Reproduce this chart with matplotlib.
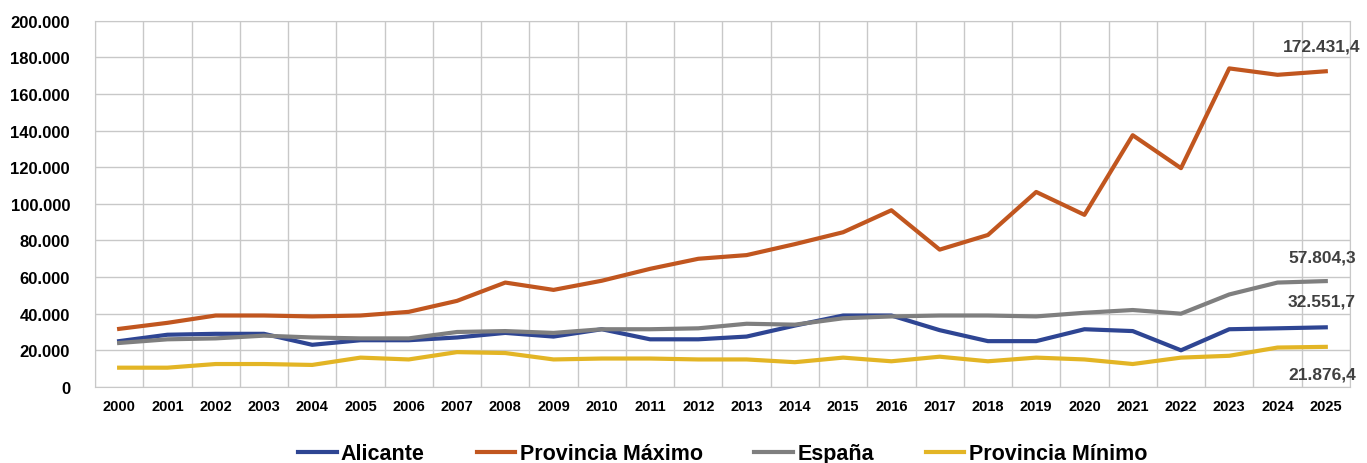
import matplotlib
matplotlib.use("Agg")
import matplotlib.pyplot as plt
from matplotlib.ticker import FuncFormatter, MultipleLocator

years = list(range(2000, 2026))

alicante = [25.0, 28.5, 29.0, 29.0, 23.0, 25.5, 25.5, 27.0, 29.5, 27.5,
            31.5, 26.0, 26.0, 27.5, 33.5, 39.0, 39.0, 31.0, 25.0, 25.0,
            31.5, 30.5, 20.0, 31.5, 32.0, 32.5517]
prov_max = [31.7, 35.0, 39.0, 39.0, 38.5, 39.0, 41.0, 47.0, 57.0, 53.0,
            58.0, 64.5, 70.0, 72.0, 78.0, 84.5, 96.5, 75.0, 83.0, 106.5,
            94.0, 137.5, 119.5, 174.0, 170.5, 172.4314]
espana = [24.0, 26.0, 26.5, 28.0, 27.0, 26.5, 26.5, 30.0, 30.5, 29.5,
          31.5, 31.5, 32.0, 34.5, 34.0, 37.5, 38.5, 39.0, 39.0, 38.5,
          40.5, 42.0, 40.0, 50.5, 57.0, 57.8043]
prov_min = [10.5, 10.5, 12.5, 12.5, 12.0, 16.0, 15.0, 19.0, 18.5, 15.0,
            15.5, 15.5, 15.0, 15.0, 13.5, 16.0, 14.0, 16.5, 14.0, 16.0,
            15.0, 12.5, 16.0, 17.0, 21.5, 21.8764]

series = [("Alicante", alicante, "#2E4593"),
          ("Provincia Máximo", prov_max, "#C1561F"),
          ("España", espana, "#7F7F7F"),
          ("Provincia Mínimo", prov_min, "#E3B525")]

end_labels = ["172.431,4", "57.804,3", "32.551,7", "21.876,4"]
label_y = [186, 71, 47, 7]

plt.rcParams['font.family'] = ['Liberation Sans', 'DejaVu Sans']

fig = plt.figure(figsize=(13.67, 4.64), dpi=100)
ax = fig.add_axes([0.0695, 0.164, 0.918, 0.789])

x = list(range(len(years)))
for name, vals, col in series:
    ax.plot(x, [v * 1000 for v in vals], color=col, lw=3, label=name,
            solid_joinstyle="round")

ax.set_xlim(-0.5, len(years) - 0.5)
ax.set_ylim(0, 200000)
ax.set_xticks(x)
ax.set_xticklabels([str(y) for y in years], fontsize=10.5, fontweight="bold")
ax.xaxis.set_minor_locator(MultipleLocator(1, offset=0.5))
ax.yaxis.set_major_locator(MultipleLocator(20000))
ax.yaxis.set_major_formatter(FuncFormatter(lambda v, p: "{:,.0f}".format(v).replace(",", ".")))
for t in ax.get_yticklabels():
    t.set_fontweight("bold")
    t.set_fontsize(12)
ax.tick_params(axis="both", which="both", length=0)
ax.tick_params(axis="x", pad=9)
ax.tick_params(axis="y", pad=18)
ax.grid(True, which="minor", axis="x", color="#C8C8C8", lw=1)
ax.grid(True, which="major", axis="y", color="#C8C8C8", lw=1)
for s in ax.spines.values():
    s.set_color("#C8C8C8")
ax.set_axisbelow(True)

for txt, ly in zip(end_labels, label_y):
    ax.text(x[-1] - 0.08, ly * 1000, txt, ha="center", va="center",
            fontsize=12.5, fontweight="bold", color="#404040")

ax.legend(loc="center", bbox_to_anchor=(0.5, -0.183), ncol=4,
          frameon=False, prop={"size": 15.5, "weight": "bold"},
          handlelength=1.8, handletextpad=0.2, columnspacing=2.4)

fig.savefig("out.png", dpi=100)
